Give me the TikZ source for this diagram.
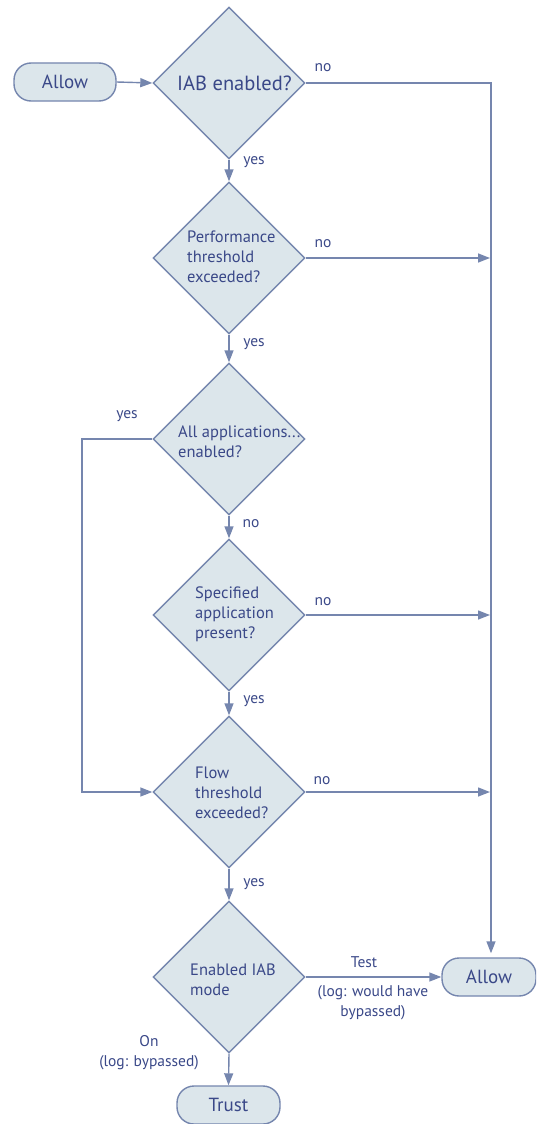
\documentclass[tikz,border=0pt]{standalone}
\usepackage{fontspec}
\setmainfont{PT Sans}
\usetikzlibrary{shapes.geometric,arrows.meta}
\definecolor{boxfill}{HTML}{DCE6EB}
\definecolor{edge}{HTML}{7586AE}
\definecolor{ink}{HTML}{3A4888}
\tikzset{
  dia/.style={diamond,draw=edge,fill=boxfill,line width=1.4pt,minimum width=152pt,minimum height=152pt,inner sep=0pt,aspect=1},
  term/.style={rounded corners=17pt,draw=edge,fill=boxfill,line width=1.4pt,minimum height=38pt,inner sep=0pt,text=ink,font=\fontsize{19}{22}\selectfont},
  dtext/.style={anchor=west,align=left,text=ink,font=\fontsize{16.5}{20}\selectfont,inner sep=0pt},
  lbl/.style={text=ink,font=\fontsize{15.5}{20}\selectfont,inner sep=0pt,align=center},
  conn/.style={draw=edge,line width=1.4pt},
  arr/.style={conn,-{Triangle[length=12pt,width=9pt]}},
}
\begin{document}
\begin{tikzpicture}[x=1pt,y=-1pt]
\useasboundingbox (0,0) rectangle (536,1124);
\clip (0,0) rectangle (536,1124);
% terminals
\node[term,minimum width=102pt] (start) at (65,82) {Allow\hspace{8pt}};
\node[term,minimum width=94pt] (allowend) at (489,977) {Allow};
\node[term,minimum width=103pt] (trust) at (228.5,1105) {Trust};
% diamonds
\node[dia] (d1) at (229,83) {};
\node[dia] (d2) at (229,258) {};
\node[dia] (d3) at (229,439) {};
\node[dia] (d4) at (229,615) {};
\node[dia] (d5) at (229,792) {};
\node[dia] (d6) at (229,977) {};
% diamond texts
\node[dtext,font=\fontsize{20.5}{22}\selectfont] (t1) at (177,83) {IAB enabled?};
\node[dtext] (t2) at (187,257) {Performance\\threshold\\exceeded?};
\node[dtext] (t3) at (178,442) {All applications...\\enabled?};
\node[dtext] (t4) at (195,614) {Specified\\application\\present?};
\node[dtext] (t5) at (195,793) {Flow\\threshold\\exceeded?};
\node[dtext] (t6) at (190,980) {Enabled IAB\\mode};
% right-side coordinates
\coordinate (r1) at (491,83);
\coordinate (r2) at (490,258);
\coordinate (r4) at (490,615);
\coordinate (r5) at (490,792);
\coordinate (l3) at (82,439);
\coordinate (l5) at (82,792);
% connectors
\draw[arr] (start.east) -- (d1.west);
\draw[arr,shorten >=4pt] (d1.east) -- (r1) -- (r1 |- allowend.north);
\draw[arr] (d1.south) -- (d2.north);
\draw[arr] (d2.east) -- (r2);
\draw[arr] (d2.south) -- (d3.north);
\draw[arr] (d3.west) -- (l3) -- (l5) -- (d5.west);
\draw[arr] (d3.south) -- (d4.north);
\draw[arr] (d4.east) -- (r4);
\draw[arr] (d4.south) -- (d5.north);
\draw[arr] (d5.east) -- (r5);
\draw[arr] (d5.south) -- (d6.north);
\draw[arr] (d6.east) -- (allowend.west);
\draw[arr] (d6.south) -- (trust.north);
% labels
\node[lbl] (n1) at (323,68) {no};
\node[lbl] (y1) at (254,162) {yes};
\node[lbl] (n2) at (323,244) {no};
\node[lbl] (y2) at (254,344) {yes};
\node[lbl] (y3) at (127,416) {yes};
\node[lbl] (n3) at (251,524) {no};
\node[lbl] (n4) at (323,602) {no};
\node[lbl] (y4) at (254,701) {yes};
\node[lbl] (n5) at (322,781) {no};
\node[lbl] (y5) at (254,884) {yes};
\node[lbl] (test) at (364,962) {Test};
\node[lbl] (testlog) at (373,1003) {(log: would have\\bypassed)};
\node[lbl] (on) at (149,1053) {On\\(log: bypassed)};
\end{tikzpicture}
\end{document}
